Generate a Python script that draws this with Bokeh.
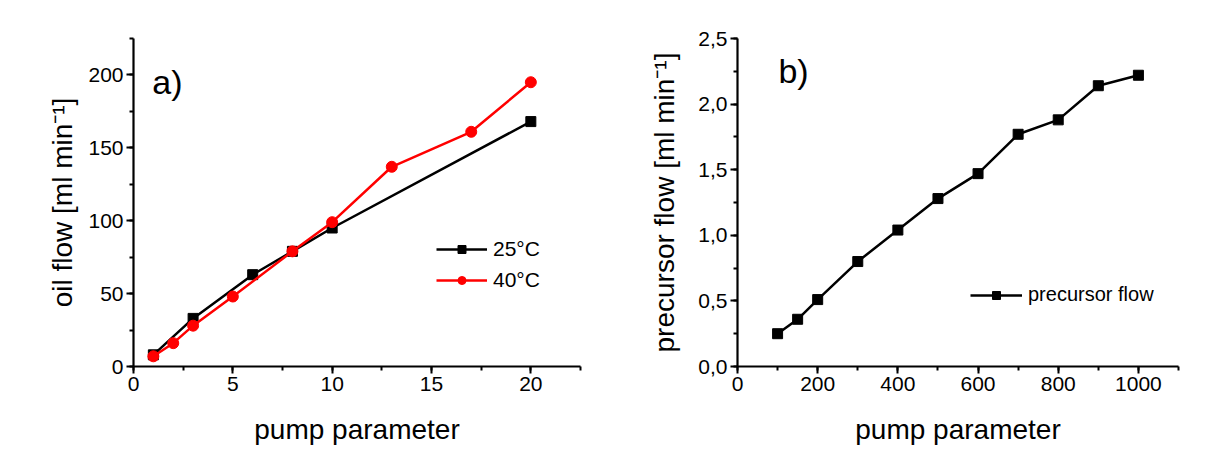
from bokeh.plotting import figure
from bokeh.layouts import row
from bokeh.models import (Range1d, SingleIntervalTicker, Legend, LegendItem, Label,
                          CustomJSTickFormatter)
from bokeh.embed import file_html
from bokeh.resources import INLINE

# ---- data: panel a) ----
x25 = [1, 3, 6, 8, 10, 20]
y25 = [8, 33, 63, 79, 95, 168]
x40 = [1, 2, 3, 5, 8, 10, 13, 17, 20]
y40 = [7, 16, 28, 48, 79, 99, 137, 161, 195]

# ---- data: panel b) ----
xp = [100, 150, 200, 300, 400, 500, 600, 700, 800, 900, 1000]
yp = [0.25, 0.36, 0.51, 0.80, 1.04, 1.28, 1.47, 1.77, 1.88, 2.14, 2.22]

FONT = "Liberation Sans"


def style(p, ylab_standoff):
    p.outline_line_color = None
    p.xgrid.visible = False
    p.ygrid.visible = False
    p.background_fill_color = "white"
    p.border_fill_color = "white"
    for ax in (p.xaxis[0], p.yaxis[0]):
        ax.axis_line_width = 2.2
        ax.axis_line_color = "black"
        ax.major_tick_line_width = 2
        ax.minor_tick_line_width = 2
        ax.major_tick_out = 7
        ax.major_tick_in = 0
        ax.minor_tick_out = 4
        ax.minor_tick_in = 0
        ax.major_label_text_font = FONT
        ax.major_label_text_font_size = "21px"
        ax.major_label_text_color = "black"
        ax.axis_label_text_font = FONT
        ax.axis_label_text_font_size = "28px"
        ax.axis_label_text_font_style = "normal"
        ax.axis_label_text_color = "black"
    p.yaxis[0].major_label_standoff = 3
    p.xaxis[0].major_label_standoff = 3
    p.yaxis[0].axis_label_standoff = ylab_standoff
    p.xaxis[0].axis_label_standoff = 20


# ---------------- panel a ----------------
p1 = figure(width=600, height=449, output_backend="svg", toolbar_location=None,
            x_range=Range1d(0, 22.5), y_range=Range1d(0, 225),
            min_border_left=133, min_border_right=20, min_border_top=38,
            min_border_bottom=83)
style(p1, 7)
p1.xaxis.ticker = SingleIntervalTicker(interval=5, num_minor_ticks=2)
p1.yaxis.ticker = SingleIntervalTicker(interval=50, num_minor_ticks=2)
p1.xaxis.axis_label = "pump parameter"
p1.yaxis.axis_label = "oil flow [ml min\u207b\u00b9]"

l25 = p1.line(x25, y25, line_color="black", line_width=2.5)
m25 = p1.scatter(x25, y25, marker="square", size=10, fill_color="black", line_color="black")
l40 = p1.line(x40, y40, line_color="#ff0000", line_width=2.5)
m40 = p1.scatter(x40, y40, marker="circle", size=11, fill_color="#ff0000", line_color="#ff0000")

leg1 = Legend(items=[LegendItem(label="25\u00b0C", renderers=[l25, m25]),
                     LegendItem(label="40\u00b0C", renderers=[l40, m40])],
              location=(303, 74), border_line_color=None, background_fill_alpha=0,
              padding=0, margin=0, spacing=7, glyph_width=51, glyph_height=20,
              label_height=20, label_standoff=6, label_text_color="black",
              label_text_font=FONT, label_text_font_size="21px")
p1.add_layout(leg1, "center")
p1.add_layout(Label(x=0.95, y=195, text="a)", text_font=FONT, text_font_size="34px",
                    text_baseline="middle", text_color="black"))

# ---------------- panel b ----------------
p2 = figure(width=590, height=449, output_backend="svg", toolbar_location=None,
            x_range=Range1d(0, 1100), y_range=Range1d(0, 2.5),
            min_border_left=137, min_border_right=12, min_border_top=38,
            min_border_bottom=83)
style(p2, 15)
p2.xaxis.ticker = SingleIntervalTicker(interval=200, num_minor_ticks=2)
p2.yaxis.ticker = SingleIntervalTicker(interval=0.5, num_minor_ticks=2)
p2.yaxis.formatter = CustomJSTickFormatter(code="return tick.toFixed(1).replace('.', ',');")
p2.xaxis.axis_label = "pump parameter"
p2.yaxis.axis_label = "precursor flow [ml min\u207b\u00b9]"

lp = p2.line(xp, yp, line_color="black", line_width=2.5)
mp = p2.scatter(xp, yp, marker="square", size=10, fill_color="black", line_color="black")

leg2 = Legend(items=[LegendItem(label="precursor flow", renderers=[lp, mp])],
              location=(233, 60), border_line_color=None, background_fill_alpha=0,
              padding=0, margin=0, glyph_width=52, glyph_height=20, label_height=20,
              label_standoff=6, label_text_color="black",
              label_text_font=FONT, label_text_font_size="20px")
p2.add_layout(leg2, "center")
p2.add_layout(Label(x=102, y=2.25, text="b)", text_font=FONT, text_font_size="34px",
                    text_baseline="middle", text_color="black"))

layout = row(p1, p2)
open("out.html", "w").write(file_html(layout, INLINE))
